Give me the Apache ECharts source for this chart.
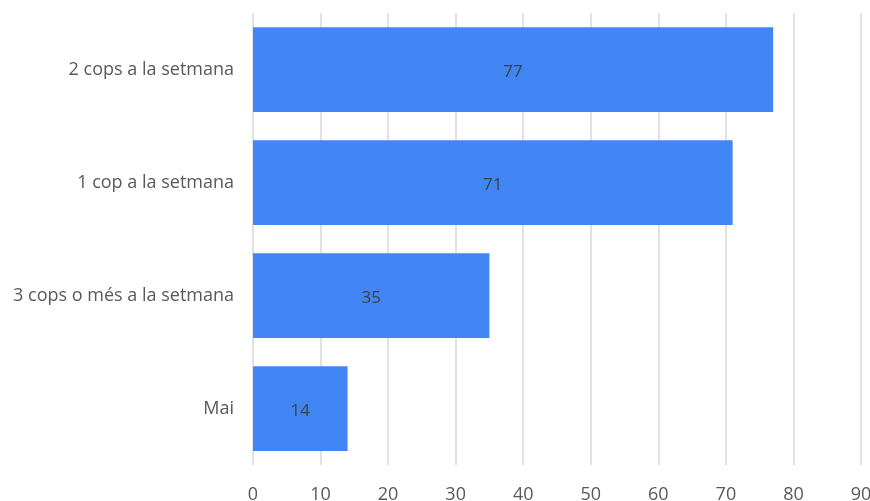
<!DOCTYPE html>
<html>
<head>
<meta charset="utf-8">
<script src="https://cdn.jsdelivr.net/npm/echarts@6/dist/echarts.min.js"></script>
<style>html,body{margin:0;padding:0;background:#fff}#c{width:870px;height:501px}</style>
</head>
<body>
<div id="c"></div>
<script>
const categories = ["Mai", "3 cops o més a la setmana", "1 cop a la setmana", "2 cops a la setmana"];
const values = [14, 35, 71, 77];
const xTicks = [0, 10, 20, 30, 40, 50, 60, 70, 80, 90];

const chart = echarts.init(document.getElementById('c'), null, {renderer: 'canvas'});
chart.setOption({
  animation: false,
  textStyle: {fontFamily: '"Open Sans", sans-serif'},
  grid: {left: 253, right: 9, top: 13, bottom: 36, containLabel: false, outerBoundsMode: 'none'},
  xAxis: {
    type: 'value',
    min: xTicks[0],
    max: xTicks[xTicks.length - 1],
    interval: 10,
    axisLine: {show: false},
    axisTick: {show: false},
    splitLine: {show: true, lineStyle: {color: '#d9d9d9', width: 1.5}},
    axisLabel: {color: '#595959', fontSize: 18, margin: 21, fontFamily: '"Open Sans", sans-serif'}
  },
  yAxis: {
    type: 'category',
    data: categories,
    axisLine: {show: false},
    axisTick: {show: false},
    axisLabel: {color: '#595959', fontSize: 18, margin: 19, fontFamily: '"Open Sans", sans-serif'}
  },
  series: [{
    type: 'bar',
    data: values,
    barCategoryGap: '25%',
    itemStyle: {color: '#4285f4'},
    label: {show: true, position: 'inside', offset: [0, 3], color: '#404040', fontSize: 17, fontFamily: '"Open Sans", sans-serif'}
  }]
});
</script>
</body>
</html>
